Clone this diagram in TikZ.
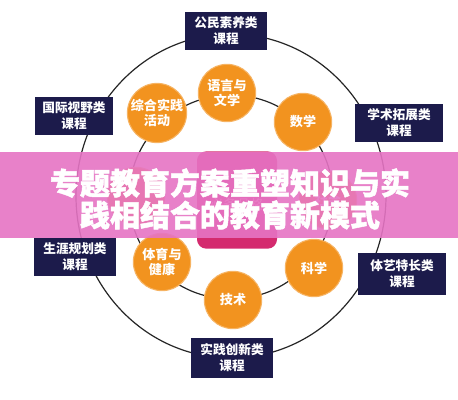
\documentclass[tikz,border=0pt]{standalone}
\usepackage{fontspec}
\newfontfamily\cjk{Noto Sans CJK SC}
\newfontfamily\cjkt{Noto Sans CJK SC}[BoldFeatures={FakeBold=1.6}]
\definecolor{navy}{HTML}{1C1B4B}
\definecolor{orng}{HTML}{F2931F}
\definecolor{sq}{HTML}{D42A6E}
\definecolor{band}{HTML}{E674C4}
\begin{document}
\begin{tikzpicture}[x=0.75pt, y=-0.75pt, every node/.style={font=\cjk\bfseries},
  k/.style={fill=navy, text=white, minimum width=61pt, minimum height=28.5pt, align=center, inner sep=1pt,
    font=\cjk\bfseries\fontsize{9.5}{12}\selectfont},
  o/.style={circle, fill=orng, draw=orng!70!white, line width=0.8pt, minimum size=43pt, inner sep=0pt, text=white, align=center,
    font=\cjk\bfseries\fontsize{9.8}{11.5}\selectfont}]
  \useasboundingbox (0,0) rectangle (458,400);
  \fill[white] (0,0) rectangle (458,400);
  % outer ring and inner ring
  \draw[line width=0.9pt, black!85] (231,196) ellipse [x radius=155, y radius=162];
  \draw[line width=0.9pt, black!85] (231,197) circle [radius=102];
  % centre block
  \node[fill=sq, rounded corners=7pt, minimum width=60pt, minimum height=73pt] (c0) at (237,200) {};
  \node[text=pink!70!white, font=\cjk\fontsize{10}{12}\selectfont] (c1) at (237,204) {必备品格};
  % subjects
  \node[o] (o1) at (227,93) {语言与\\文学};
  \node[o] (o2) at (303,122) {数学};
  \node[o] (o3) at (328,200) {社会};
  \node[o] (o4) at (314,268) {科学};
  \node[o] (o5) at (233,300) {技术};
  \node[o] (o6) at (162,262) {体育与\\健康};
  \node[o] (o7) at (136,196) {};
  \node[o] (o8) at (157,113) {综合实践\\活动};
  % course groups
  \node[k] (k1) at (226,31) {公民素养类\\课程};
  \node[k, minimum width=66pt] (k2) at (399,123) {学术拓展类\\课程};
  \node[k, minimum width=66pt, minimum height=31pt] (k3) at (402,274) {体艺特长类\\课程};
  \node[k, minimum height=30pt] (k4) at (232,358) {实践创新类\\课程};
  \node[k] (k5) at (75,257) {生涯规划类\\课程};
  \node[k, minimum width=59pt] (k6) at (74,116) {国际视野类\\课程};
  % title band
  \fill[band, opacity=0.9] (0,152) rectangle (458,238);
  \node[text=white, align=center, font=\cjkt\bfseries\fontsize{22.5}{24}\selectfont] (t0) at (230,199)
    {专题教育方案重塑知识与实\\践相结合的教育新模式};
\end{tikzpicture}
\end{document}
